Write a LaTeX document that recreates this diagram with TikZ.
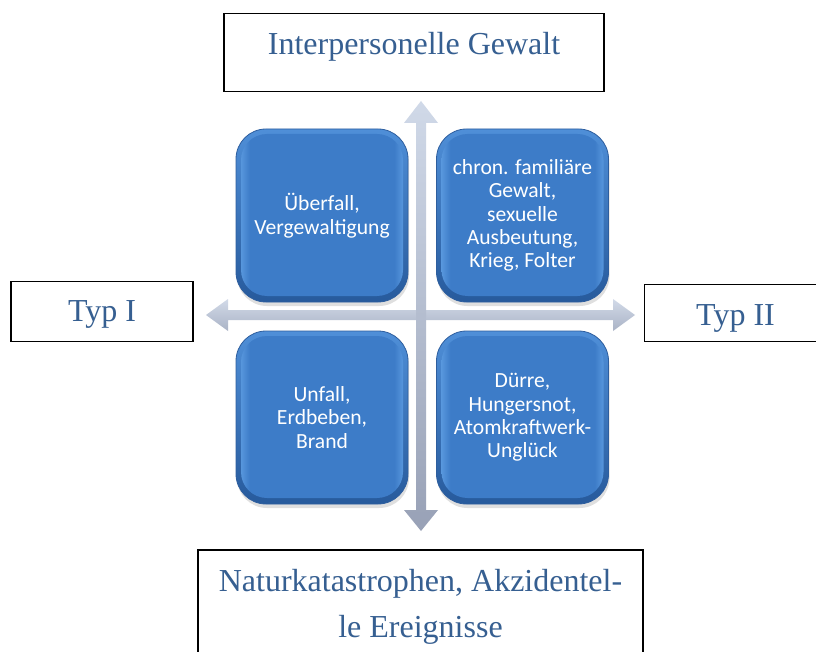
\documentclass[tikz,border=0pt]{standalone}
\usepackage{fontspec}
\setmainfont{Liberation Serif}
\newfontfamily\boxfont{Carlito}
\usetikzlibrary{calc,shadows}
\definecolor{lbl}{HTML}{365F91}
\definecolor{rimtop}{HTML}{4F8FD8}
\definecolor{rimbot}{HTML}{275A9C}
\definecolor{rimline}{HTML}{2E5E9E}
\definecolor{face}{HTML}{3D7CC8}
\definecolor{faceedge}{HTML}{66A5E8}
\definecolor{arrtop}{HTML}{D0D9E8}
\definecolor{arrbot}{HTML}{98A1B6}
\definecolor{harrtop}{HTML}{D2DAE8}
\definecolor{harrbot}{HTML}{AAB3C6}
\pgfdeclareverticalshading{rimshade}{100bp}{color(0bp)=(rimbot); color(25bp)=(rimbot); color(75bp)=(rimtop); color(100bp)=(rimtop)}
\pgfdeclarehorizontalshading{faceshade}{100bp}{color(0bp)=(faceedge); color(25bp)=(faceedge); color(29bp)=(face); color(71bp)=(face); color(75bp)=(faceedge); color(100bp)=(faceedge)}
\begin{document}
\begin{tikzpicture}[x=1pt,y=-1pt,
  frame/.style={draw=black, line width=1.1pt, inner sep=0pt, text=lbl, font=\fontsize{32}{38}\selectfont},
  bluebox/.style={rounded corners=30pt, minimum width=172pt, minimum height=173pt, inner sep=0pt,
    align=center, text=white, font=\boxfont\fontsize{21.6}{23.4}\selectfont,
    shade, shading=rimshade, draw=rimline, line width=0.8pt,
    drop shadow={opacity=0.25, shadow xshift=1pt, shadow yshift=-4pt},
    path picture={\shade[shading=faceshade, rounded corners=26pt]
      ($(path picture bounding box.north west)+(5,5)$) rectangle
      ($(path picture bounding box.south east)+(-5,-6)$);}},
  varrow/.style={top color=arrtop, bottom color=arrbot},
  harrow/.style={top color=harrtop, bottom color=harrbot}
]
\useasboundingbox (0,0) rectangle (816,652);
\fill[white] (0,0) rectangle (816,652);

% arrows
\coordinate (hl) at (206,315);
\coordinate (hr) at (635,315);
\coordinate (vt) at (421,101);
\coordinate (vb) at (421,531);
\shade[harrow] (hl) -- ($(hl)+(22,-16)$) -- ($(hl)+(22,-5)$) -- ($(hr)+(-22,-5)$) -- ($(hr)+(-22,-16)$) -- (hr)
  -- ($(hr)+(-22,16)$) -- ($(hr)+(-22,5)$) -- ($(hl)+(22,5)$) -- ($(hl)+(22,16)$) -- cycle;
\shade[varrow] (vt) -- ($(vt)+(17,22)$) -- ($(vt)+(5,22)$) -- ($(vb)+(5,-21)$) -- ($(vb)+(17,-21)$) -- (vb)
  -- ($(vb)+(-17,-21)$) -- ($(vb)+(-5,-21)$) -- ($(vt)+(-5,22)$) -- ($(vt)+(-17,22)$) -- cycle;

% blue boxes
\node[bluebox] (tl) at (322,215.5) {Überfall,\\Vergewaltigung};
\node[bluebox] (tr) at (522.5,215.5) {chron. familiäre\\Gewalt,\\sexuelle\\Ausbeutung,\\Krieg, Folter};
\node[bluebox] (bl) at (322,417.5) {Unfall,\\Erdbeben,\\Brand};
\node[bluebox] (br) at (522.5,417.5) {Dürre,\\Hungersnot,\\Atomkraftwerk-\\Unglück};

% frames
\node[frame, minimum width=380pt, text height=41pt, text depth=37pt, anchor=north] (inter) at (414,13) {Interpersonelle Gewalt};
\node[frame, minimum width=182pt, text height=40pt, text depth=20pt, anchor=north] (typ1) at (102,281) {Typ I};
\node[frame, minimum width=182pt, text height=41pt, text depth=16pt, anchor=north] (typ2) at (735.5,284) {Typ II};
\node[frame, minimum width=445pt, minimum height=113pt, align=center, font=\fontsize{32}{46}\selectfont] (natur) at (420.5,606.5) {Naturkatastrophen, Akzidentel-\\le Ereignisse};
\end{tikzpicture}
\end{document}
